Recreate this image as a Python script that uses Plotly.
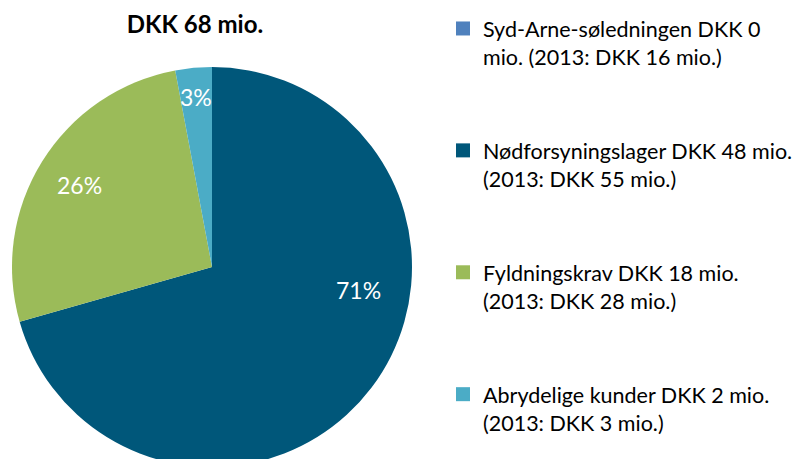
import math
import plotly.graph_objects as go

categories = ["Syd-Arne-søledningen", "Nødforsyningslager", "Fyldningskrav", "Abrydelige kunder"]
values_2014 = [0, 48, 18, 2]
values_2013 = [16, 55, 28, 3]
legend_labels = [
    "Syd-Arne-søledningen DKK 0<br>mio. (2013: DKK 16 mio.)",
    "Nødforsyningslager DKK 48 mio.<br>(2013: DKK 55 mio.)",
    "Fyldningskrav DKK 18 mio.<br>(2013: DKK 28 mio.)",
    "Abrydelige kunder DKK 2 mio.<br>(2013: DKK 3 mio.)",
]
colors = ["#4F81BD", "#00577A", "#9BBB59", "#4BACC6"]
title_text = "DKK 68 mio."

# label placement style (radius fraction, angular shift in degrees) per slice
label_radius = [0.8, 0.74, 0.78, 0.855]
label_shift = [0, -28, 0, 0]

FONT = "Lato"
W, H = 799, 470          # page is clipped by the 459px window, like the reference
cx, cy, r = 212, 267, 200

fig = go.Figure()
fig.add_trace(go.Pie(
    labels=categories,
    values=values_2014,
    marker=dict(colors=colors, line=dict(width=0)),
    sort=False,
    direction="clockwise",
    rotation=0,
    textinfo="none",
    showlegend=False,
    hoverinfo="label+value+percent",
    domain=dict(x=[(cx - r) / W, (cx + r) / W], y=[(H - cy - r) / H, (H - cy + r) / H]),
))

# percentage labels derived from the values
total = sum(values_2014)
start = 0.0
for v, frac, shift in zip(values_2014, label_radius, label_shift):
    ang = start + v / total * 360 / 2 + shift
    start += v / total * 360
    if v <= 0:
        continue
    a = math.radians(ang)
    px = cx + frac * r * math.sin(a)
    py = cy - frac * r * math.cos(a)
    fig.add_annotation(
        x=px / W, y=1 - py / H, xref="paper", yref="paper",
        text=f"{round(v / total * 100)}%", showarrow=False,
        xanchor="center", yanchor="middle",
        font=dict(family=FONT, size=23, color="white"),
    )

for i, (lab, col) in enumerate(zip(legend_labels, colors)):
    fig.add_trace(go.Scatter(
        x=[None], y=[None], mode="markers",
        marker=dict(symbol="square", size=14, color=col),
        name=lab, legendgroup=f"g{i}", showlegend=True,
    ))

fig.update_layout(
    width=W, height=H,
    margin=dict(l=0, r=0, t=0, b=0),
    paper_bgcolor="white", plot_bgcolor="white",
    font=dict(family=FONT, size=21.5, color="black"),
    title=dict(text="<b>" + title_text + "</b>", x=195 / W, xanchor="center",
               y=1 - 25 / H, yanchor="middle", font=dict(family=FONT, size=24, color="black")),
    xaxis=dict(visible=False),
    yaxis=dict(visible=False),
    legend=dict(x=443 / W, xanchor="left", y=1 - 8 / H, yanchor="top",
                valign="top", tracegroupgap=63, font=dict(family=FONT, size=21.5, color="black"),
                bgcolor="rgba(0,0,0,0)", itemclick=False, itemdoubleclick=False),
)

fig.write_html(
    "out.html",
    config={"displayModeBar": False},
    post_script="document.body.style.margin='0';document.body.style.overflow='hidden';"
                "document.documentElement.style.overflow='hidden';",
)
